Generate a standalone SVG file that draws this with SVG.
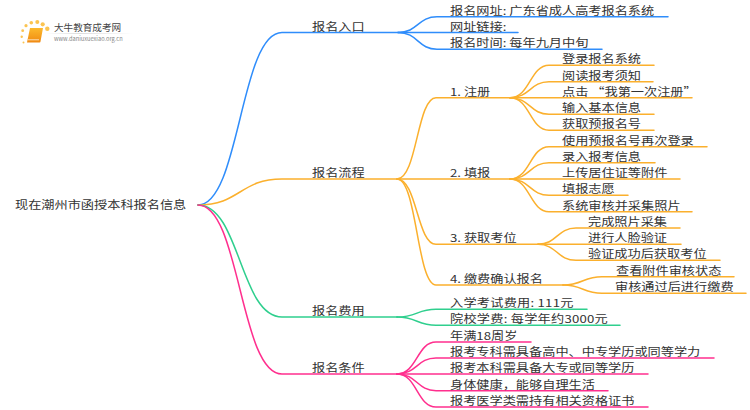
<svg xmlns="http://www.w3.org/2000/svg" width="750" height="410" viewBox="0 0 750 410">
<defs>
<linearGradient id="bk" x1="0" y1="0" x2="0" y2="1"><stop offset="0" stop-color="#fcb92c"/><stop offset="1" stop-color="#f08a12"/></linearGradient>
<linearGradient id="lg" x1="0" y1="0" x2="1" y2="0"><stop offset="0" stop-color="#ddd" stop-opacity="0"/><stop offset="0.4" stop-color="#ddd"/><stop offset="1" stop-color="#ddd" stop-opacity="0"/></linearGradient>
</defs>
<style>
text{font-family:"Noto Sans CJK SC","Noto Sans",sans-serif;font-size:11px;fill:#333}
.c{fill:none;stroke-width:1.5;stroke-linecap:round}
.b{stroke:#2f8dfb}.o{stroke:#fbb02d}.g{stroke:#2fcf8e}.p{stroke:#ff2f8e}
.d{fill:#fbc451;stroke:none}
.w{letter-spacing:.2px}
</style>
<rect width="750" height="410" fill="#fff"/>
<g id="logo">
<circle class="d" cx="23.500" cy="42.500" r="1"/><circle class="d" cx="21.700" cy="36.700" r="1.200"/><circle class="d" cx="22.700" cy="30.700" r="1.400"/><circle class="d" cx="26" cy="25.700" r="1.600"/><circle class="d" cx="31.300" cy="22.700" r="1.800"/><circle class="d" cx="37.300" cy="22" r="2"/><circle class="d" cx="42.700" cy="24.300" r="2.100"/><circle class="d" cx="47.300" cy="28.700" r="2.200"/>
<path d="M30,28 h13 l-2.500,13.500 a1,1 0 0 1 -1,1 h-12.500 z" fill="url(#bk)"/>
<path d="M28,39.800 h11" stroke="#fff" stroke-width=".7" fill="none"/>
<rect x="45" y="33" width="88" height="1" fill="url(#lg)"/>
<text x="54" y="30.500" style="font-size:9.600px;fill:#444">大牛教育成考网</text>
<text x="54" y="41" style="font-size:5.700px;fill:#888">www.daniuxuexiao.org.cn</text>
</g>
<g id="connectors">
<path class="c b" d="M198,205C240,205 240,32.500 282,32.500H398"/>
<path class="c b" d="M398,32.500C418,32.500 418,16.700 437,16.700H668"/>
<path class="c b" d="M398,32.500H518"/>
<path class="c b" d="M398,32.500C418,32.500 418,49.300 437,49.300H602"/>
<path class="c o" d="M198,205C240,205 240,179 282,179H397"/>
<path class="c o" d="M397,179C417,179 417,97.700 436,97.700H510"/>
<path class="c o" d="M397,179H510"/>
<path class="c o" d="M397,179C417,179 417,244.300 436,244.300H538"/>
<path class="c o" d="M397,179C417,179 417,285 436,285H563"/>
<path class="c o" d="M510,97.700C530,97.700 530,65.300 549,65.300H654"/>
<path class="c o" d="M510,97.700C530,97.700 530,81.700 549,81.700H653"/>
<path class="c o" d="M510,97.700H692"/>
<path class="c o" d="M510,97.700C530,97.700 530,114.300 549,114.300H654"/>
<path class="c o" d="M510,97.700C530,97.700 530,130.300 549,130.300H654"/>
<path class="c o" d="M510,179C530,179 530,146.700 549,146.700H707"/>
<path class="c o" d="M510,179C530,179 530,162.700 549,162.700H655"/>
<path class="c o" d="M510,179H680"/>
<path class="c o" d="M510,179C530,179 530,195.300 549,195.300H628"/>
<path class="c o" d="M510,179C530,179 530,211.700 549,211.700H692"/>
<path class="c o" d="M538,244.300C557,244.300 557,228 576,228H680"/>
<path class="c o" d="M538,244.300H681"/>
<path class="c o" d="M538,244.300C557,244.300 557,260.300 576,260.300H720"/>
<path class="c o" d="M563,285C583,285 583,276.700 602,276.700H734"/>
<path class="c o" d="M563,285C583,285 583,293.300 602,293.300H746"/>
<path class="c g" d="M198,205C240,205 240,317 282,317H397"/>
<path class="c g" d="M397,317C417,317 417,309.300 436,309.300H587"/>
<path class="c g" d="M397,317C417,317 417,325.300 436,325.300H620"/>
<path class="c p" d="M198,205C240,205 240,374 282,374H397"/>
<path class="c p" d="M397,374C417,374 417,342 436,342H531"/>
<path class="c p" d="M397,374C417,374 417,358 436,358H714"/>
<path class="c p" d="M397,374H648"/>
<path class="c p" d="M397,374C417,374 417,390.700 436,390.700H608"/>
<path class="c p" d="M397,374C417,374 417,407 436,407H648"/>
</g>
<g id="root"><text transform="translate(15,208.500) scale(1.2,1)">现在潮州市函授本科报名信息</text></g>
<g id="n1"><text transform="translate(312,30.500) scale(1.2,1)">报名入口</text></g>
<g id="n1-1"><text transform="translate(450,14.500) scale(1.2,1)">报名网址: 广东省成人高考报名系统</text></g>
<g id="n1-2"><text transform="translate(450,30.500) scale(1.2,1)">网址链接:</text></g>
<g id="n1-3"><text transform="translate(450,47) scale(1.2,1)">报名时间: 每年九月中旬</text></g>
<g id="n2"><text transform="translate(312,177) scale(1.2,1)">报名流程</text></g>
<g id="n2-1"><text transform="translate(450,95.500) scale(1.2,1)">1. 注册</text></g>
<g id="n2-1-1"><text transform="translate(562,63) scale(1.2,1)">登录报名系统</text></g>
<g id="n2-1-2"><text transform="translate(562,79.500) scale(1.2,1)">阅读报考须知</text></g>
<g id="n2-1-3"><text transform="translate(562,95.500) scale(1.2,1)">点击 “我第一次注册”</text></g>
<g id="n2-1-4"><text transform="translate(562,112) scale(1.2,1)">输入基本信息</text></g>
<g id="n2-1-5"><text transform="translate(562,128) scale(1.2,1)">获取预报名号</text></g>
<g id="n2-2"><text transform="translate(450,177) scale(1.2,1)">2. 填报</text></g>
<g id="n2-2-1"><text transform="translate(562,144.500) scale(1.2,1)">使用预报名号再次登录</text></g>
<g id="n2-2-2"><text transform="translate(562,160.500) scale(1.2,1)">录入报考信息</text></g>
<g id="n2-2-3"><text transform="translate(562,177) scale(1.2,1)">上传居住证等附件</text></g>
<g id="n2-2-4"><text transform="translate(562,193) scale(1.2,1)">填报志愿</text></g>
<g id="n2-2-5"><text transform="translate(562,209.500) scale(1.2,1)">系统审核并采集照片</text></g>
<g id="n2-3"><text transform="translate(450,242) scale(1.2,1)">3. 获取考位</text></g>
<g id="n2-3-1"><text transform="translate(588,226) scale(1.2,1)">完成照片采集</text></g>
<g id="n2-3-2"><text transform="translate(588,242) scale(1.2,1)">进行人脸验证</text></g>
<g id="n2-3-3"><text transform="translate(588,258) scale(1.2,1)">验证成功后获取考位</text></g>
<g id="n2-4"><text transform="translate(450,283) scale(1.2,1)">4. 缴费确认报名</text></g>
<g id="n2-4-1"><text transform="translate(616,274.500) scale(1.2,1)">查看附件审核状态</text></g>
<g id="n2-4-2"><text transform="translate(615,291) scale(1.2,1)">审核通过后进行缴费</text></g>
<g id="n3"><text transform="translate(312,315) scale(1.2,1)">报名费用</text></g>
<g id="n3-1"><text class="w" transform="translate(450,307) scale(1.2,1)">入学考试费用: 111元</text></g>
<g id="n3-2"><text class="w" transform="translate(450,323) scale(1.2,1)">院校学费: 每学年约3000元</text></g>
<g id="n4"><text transform="translate(312,372) scale(1.2,1)">报名条件</text></g>
<g id="n4-1"><text transform="translate(450,340) scale(1.2,1)">年满18周岁</text></g>
<g id="n4-2"><text transform="translate(450,356) scale(1.2,1)">报考专科需具备高中、中专学历或同等学力</text></g>
<g id="n4-3"><text transform="translate(450,372) scale(1.2,1)">报考本科需具备大专或同等学历</text></g>
<g id="n4-4"><text transform="translate(450,388.500) scale(1.2,1)">身体健康，能够自理生活</text></g>
<g id="n4-5"><text transform="translate(450,405) scale(1.2,1)">报考医学类需持有相关资格证书</text></g>
</svg>
